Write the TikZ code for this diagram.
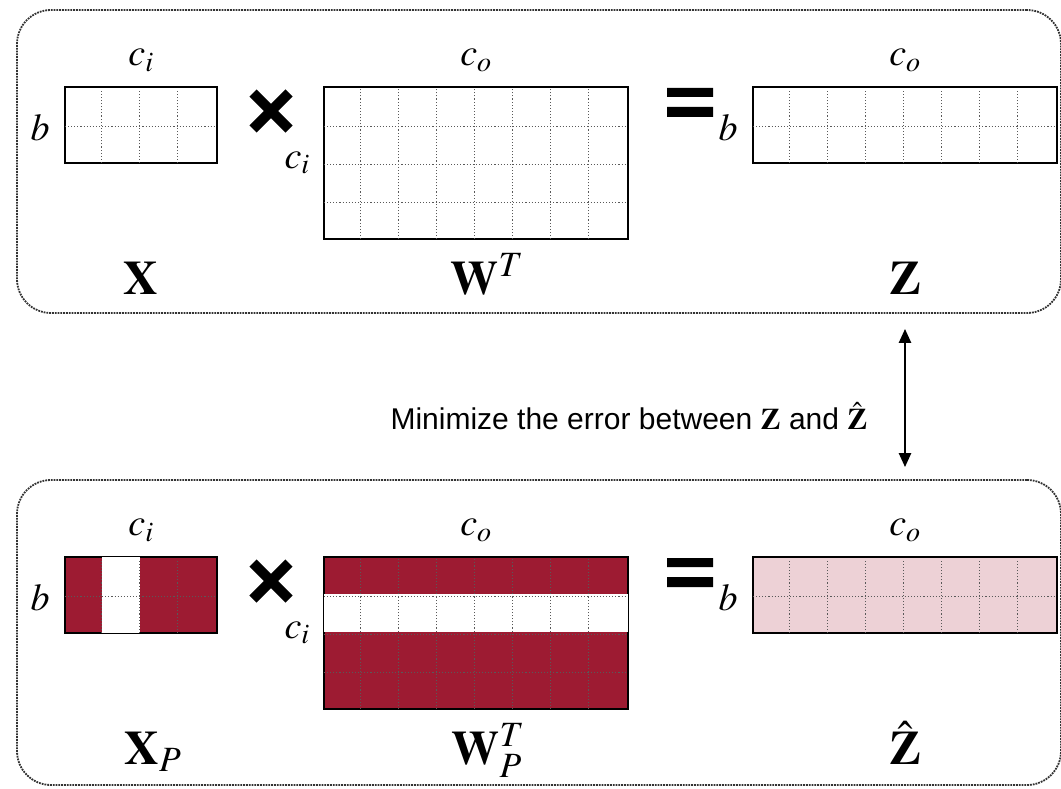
\documentclass[tikz,border=0pt]{standalone}
\usepackage{mathptmx}
\usepackage[no-math]{fontspec}
\newfontfamily\helv{Liberation Sans}
\usetikzlibrary{positioning, arrows.meta, calc}
\definecolor{prunered}{RGB}{157,27,50}
\definecolor{prunepink}{RGB}{237,209,214}

\begin{document}
\begin{tikzpicture}[x=1pt, y=-1pt,
  panel/.style={draw=black!80, densely dotted, line width=1.8pt,
    rounded corners=34pt, inner sep=0, minimum width=1044pt},
  mat/.style={draw=black, line width=2.2pt, inner sep=0,
    minimum width=152pt, minimum height=76pt},
  wmat/.style={mat, minimum width=304pt, minimum height=152pt},
  zmat/.style={mat, minimum width=304pt},
  cellgrid/.style={black!65, dotted, line width=1.1pt},
  dimlab/.style={inner sep=0, font=\fontsize{38}{44}\selectfont},
  symlab/.style={anchor=base, inner sep=0, font=\fontsize{48}{56}\selectfont},
  opsym/.style={line width=10pt},
  pairline/.style={{Triangle[length=14pt,width=12pt]}-{Triangle[length=14pt,width=12pt]},
    line width=2.4pt}
]
  \useasboundingbox (0,0) rectangle (1061,789);

  % full layer
  \node[panel, minimum height=303pt] (toppanel) at (539,161.5) {};
  \node[mat] (X) at (141,125) {};
  \node[wmat] (WT) at (476,163) {};
  \node[zmat] (Z) at (905,125) {};
  \draw[cellgrid, shift={(X.south west)}] (1pt,1pt) grid[step=38pt] (151pt,75pt);
  \draw[cellgrid, shift={(WT.south west)}] (1pt,1pt) grid[step=38pt] (303pt,151pt);
  \draw[cellgrid, shift={(Z.south west)}] (1pt,1pt) grid[step=38pt] (303pt,75pt);

  \node[dimlab, above=14pt of X] (Xci) {$c_i$};
  \node[dimlab, left=14pt of X, yshift=-3pt] (Xb) {$b$};
  \node[dimlab, above=14pt of WT] (WTco) {$c_o$};
  \node[dimlab, left=13pt of WT] (WTci) {$c_i$};
  \node[dimlab, above=14pt of Z] (Zco) {$c_o$};
  \node[dimlab, left=14pt of Z, yshift=-3pt] (Zb) {$b$};

  \draw[opsym] (253,93) -- (289,129) (253,129) -- (289,93);
  \fill (667,88) rectangle (713,97) (667,107) rectangle (713,117);

  \node[symlab] (Xlab) at (141,294) {$\mathbf{X}$};
  \node[symlab] (WTlab) at (487,294) {$\mathbf{W}^T$};
  \node[symlab] (Zlab) at (905,294) {$\mathbf{Z}$};

  % pruned layer
  \node[panel, minimum height=305pt] (botpanel) at (539,632.5) {};
  \node[mat, fill=prunered] (XP) at (141,595) {};
  \node[wmat, fill=prunered] (WPT) at (476,633) {};
  \node[zmat, fill=prunepink] (Zhat) at (905,595) {};
  \fill[white] ([xshift=38pt,yshift=-1pt]XP.north west) rectangle
    ([xshift=76pt,yshift=1pt]XP.south west);
  \fill[white] ([xshift=1pt,yshift=-38pt]WPT.north west) rectangle
    ([xshift=-1pt,yshift=-76pt]WPT.north east);
  \draw[cellgrid, shift={(XP.south west)}] (1pt,1pt) grid[step=38pt] (151pt,75pt);
  \draw[cellgrid, shift={(WPT.south west)}] (1pt,1pt) grid[step=38pt] (303pt,151pt);
  \draw[cellgrid, shift={(Zhat.south west)}] (1pt,1pt) grid[step=38pt] (303pt,75pt);

  \node[dimlab, above=14pt of XP] (XPci) {$c_i$};
  \node[dimlab, left=14pt of XP, yshift=-3pt] (XPb) {$b$};
  \node[dimlab, above=14pt of WPT] (WPTco) {$c_o$};
  \node[dimlab, left=13pt of WPT] (WPTci) {$c_i$};
  \node[dimlab, above=14pt of Zhat] (Zhatco) {$c_o$};
  \node[dimlab, left=14pt of Zhat, yshift=-3pt] (Zhatb) {$b$};

  \draw[opsym] (253,563) -- (289,599) (253,599) -- (289,563);
  \fill (667,558) rectangle (713,567) (667,577) rectangle (713,587);

  \node[symlab] (XPlab) at (153,764) {$\mathbf{X}_P$};
  \node[symlab] (WPTlab) at (488,764) {$\mathbf{W}_P^T$};
  \node[symlab] (Zhatlab) at (905,764) {$\hat{\mathbf{Z}}$};

  % link between layers
  \node[font=\helv\fontsize{30}{36}\selectfont] (msg) at (629,416)
    {Minimize the error between $\mathbf{Z}$ and $\hat{\mathbf{Z}}$};
  \coordinate (arrtop) at ($(toppanel.south -| Z.center)+(0,15)$);
  \coordinate (arrbot) at ($(botpanel.north -| Z.center)+(0,-12)$);
  \draw[pairline] (arrtop) -- (arrbot);
\end{tikzpicture}
\end{document}
